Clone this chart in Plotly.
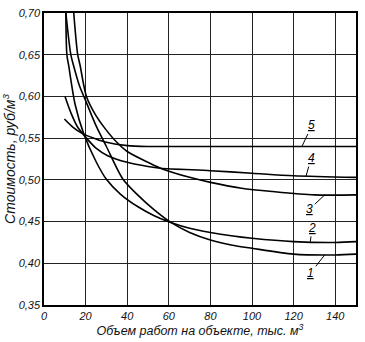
import plotly.graph_objects as go
import numpy as np

# Curve data (x: thousand m3, y: cost rub/m3)
x1 = [10.5, 12.9, 14.1, 17, 20, 25, 30, 37.9, 45, 53, 61, 70, 80, 90, 100, 120, 140, 150]
y1 = [0.700, 0.650, 0.638, 0.613, 0.595, 0.565, 0.540, 0.501, 0.482, 0.464, 0.449, 0.437, 0.428, 0.422, 0.418, 0.411, 0.410, 0.411]

x2 = [10.5, 11.0, 11.8, 15, 19, 25, 29.9, 36.7, 45, 53, 61, 70, 80, 90, 100, 120, 140, 150]
y2 = [0.700, 0.650, 0.638, 0.590, 0.556, 0.522, 0.501, 0.483, 0.468, 0.457, 0.449, 0.442, 0.437, 0.433, 0.430, 0.426, 0.425, 0.426]

x3 = [14.3, 16.2, 17.3, 20.4, 25, 29.2, 35, 40, 50, 56, 70, 80, 95, 110, 130, 150]
y3 = [0.700, 0.650, 0.638, 0.600, 0.577, 0.562, 0.545, 0.534, 0.521, 0.514, 0.503, 0.497, 0.490, 0.486, 0.482, 0.482]

x4 = [10.1, 13, 16, 19.4, 25, 30.6, 40, 50, 56, 80, 100, 120, 150]
y4 = [0.600, 0.580, 0.564, 0.553, 0.538, 0.529, 0.521, 0.516, 0.514, 0.511, 0.508, 0.505, 0.503]

x5 = [9.8, 14, 18.1, 25, 30, 40, 50, 60, 80, 100, 120, 150]
y5 = [0.573, 0.563, 0.556, 0.549, 0.545, 0.541, 0.540, 0.540, 0.540, 0.540, 0.540, 0.540]

series = [("1", x1, y1), ("2", x2, y2), ("3", x3, y3), ("4", x4, y4), ("5", x5, y5)]

# label anchor points on curves and text offsets
label_x = {"1": 135, "2": 128, "3": 135, "4": 126, "5": 124}
label_off = {"1": (-14, 18), "2": (2, -14), "3": (-15, 14), "4": (5, -18), "5": (10, -21)}

xticks = [0, 20, 40, 60, 80, 100, 120, 140, 150]
yticks = [0.35, 0.40, 0.45, 0.50, 0.55, 0.60, 0.65, 0.70]

FONT = "Liberation Sans Narrow, Liberation Sans, Arial"

fig = go.Figure()
for name, xs, ys in series:
    fig.add_trace(go.Scatter(x=xs, y=ys, mode="lines", name=name,
                             line=dict(color="black", width=1.6, shape="spline", smoothing=0.8),
                             showlegend=False, hoverinfo="skip"))

for name, xs, ys in series:
    lx = label_x[name]
    ly = float(np.interp(lx, xs, ys))
    ax, ay = label_off[name]
    fig.add_annotation(x=lx, y=ly, ax=ax, ay=ay, text="<i><u>" + name + "</u></i>",
                       showarrow=True, arrowhead=0, arrowwidth=1, arrowcolor="black",
                       font=dict(family=FONT, size=12, color="black"))

axis_common = dict(showgrid=True, gridcolor="#222", gridwidth=1, showline=True,
                   linecolor="black", linewidth=1.5, mirror=True, zeroline=False,
                   ticks="", tickfont=dict(family=FONT, size=11, color="#111"))

fig.update_layout(
    width=365, height=342,
    margin=dict(l=44, r=7, t=10, b=35),
    paper_bgcolor="white", plot_bgcolor="white",
    separators=", ",
    xaxis=dict(range=[0, 150], tickvals=xticks,
               ticktext=["<i>%d</i>" % v for v in xticks],
               title=dict(text="<i>Объем работ на объекте, тыс. м<sup>3</sup></i>",
                          font=dict(family=FONT, size=12.5, color="#111"), standoff=4),
               **axis_common),
    yaxis=dict(range=[0.35, 0.70], tickvals=yticks,
               ticktext=["<i>" + ("%.2f" % v).replace(".", ",") + "</i>" for v in yticks],
               title=dict(text="<i>Стоимость, руб/м<sup>3</sup></i>",
                          font=dict(family=FONT, size=14, color="#111"), standoff=2),
               **axis_common),
)

fig.write_html("out.html")
